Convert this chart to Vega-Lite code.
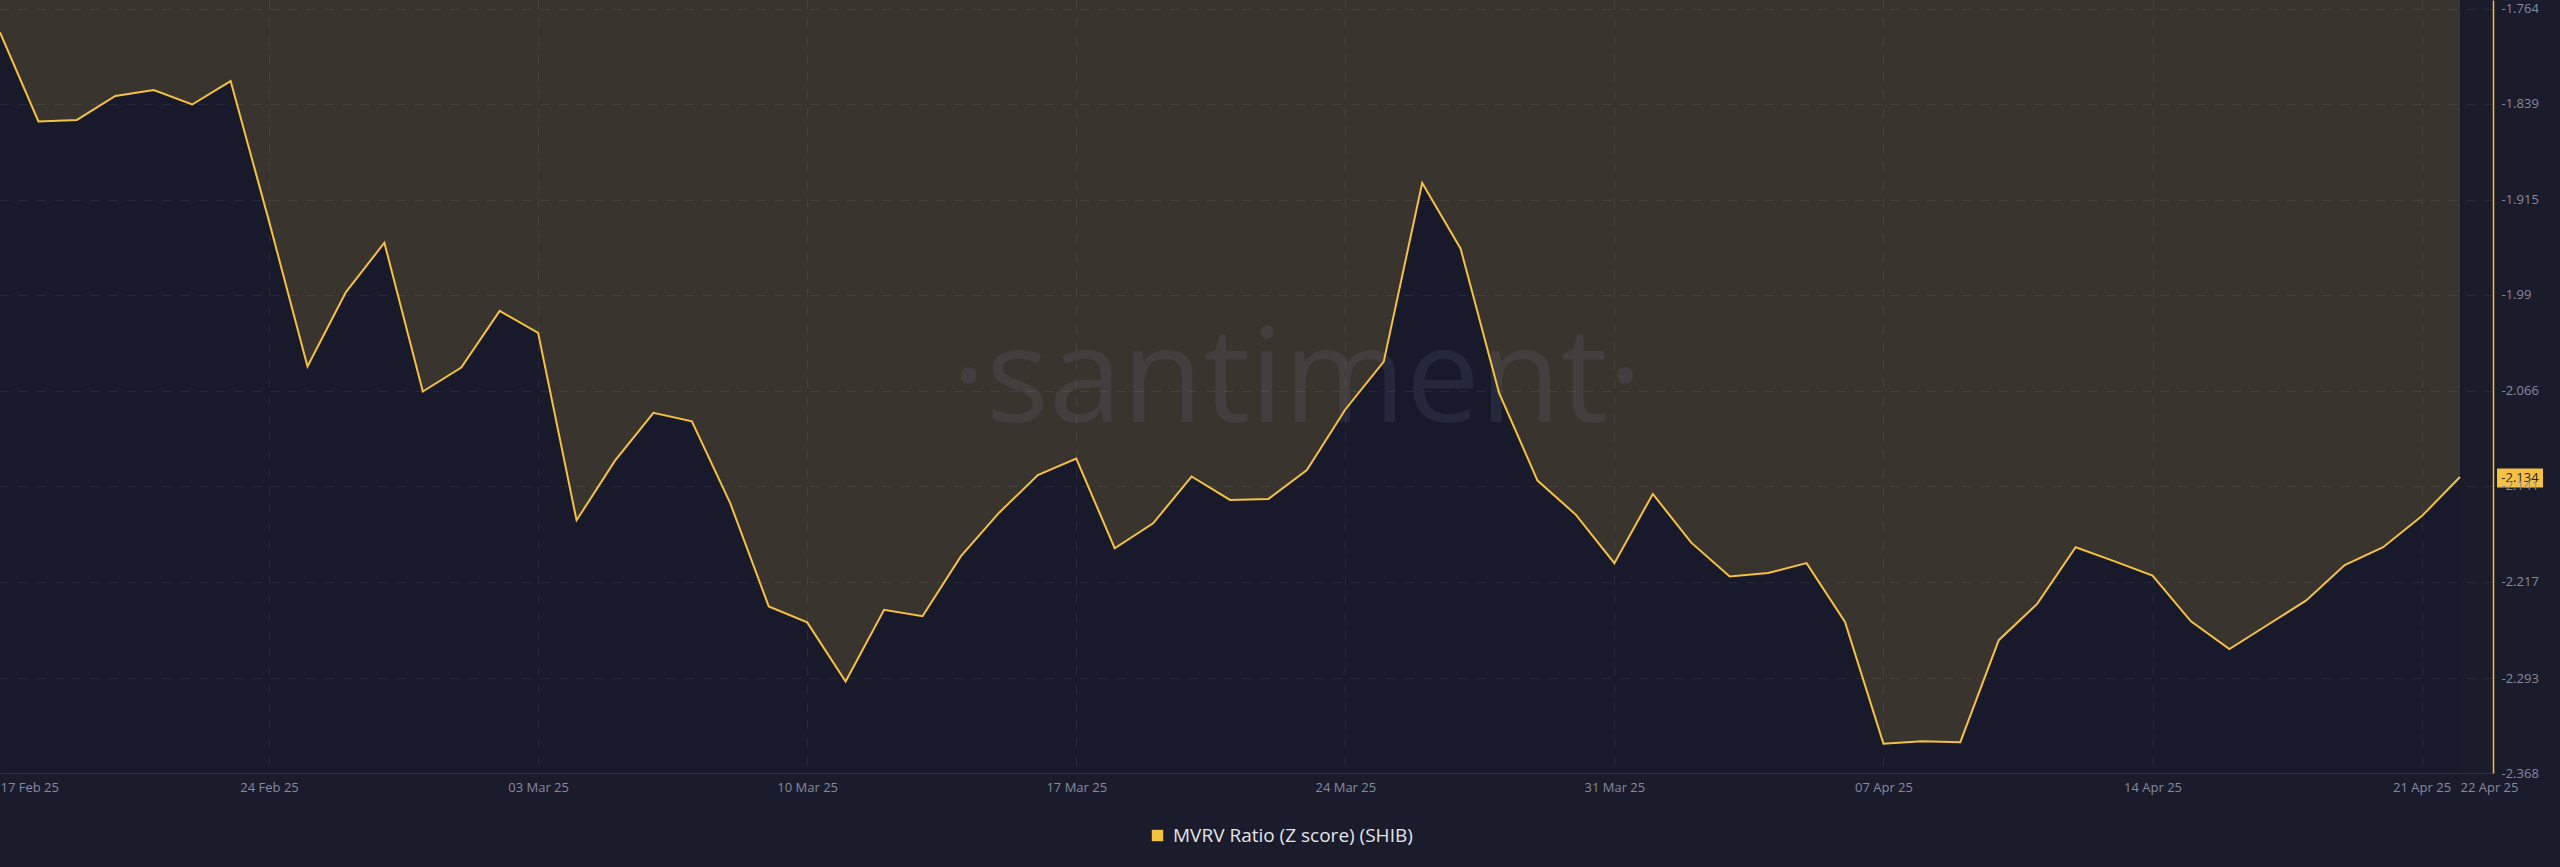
{
  "$schema": "https://vega.github.io/schema/vega-lite/v6.json",
  "width": 2493,
  "height": 773,
  "autosize": {"type": "none"},
  "padding": {"left": 0, "top": 0, "right": 67, "bottom": 94},
  "background": "#1a1b2b",
  "config": {
    "view": {"stroke": null},
    "font": "Open Sans"
  },
  "data": {
    "values": [
      {"date": "2025-02-17", "value": -1.7825},
      {"date": "2025-02-18", "value": -1.8529},
      {"date": "2025-02-19", "value": -1.8517},
      {"date": "2025-02-20", "value": -1.8328},
      {"date": "2025-02-21", "value": -1.8281},
      {"date": "2025-02-22", "value": -1.8395},
      {"date": "2025-02-23", "value": -1.8210},
      {"date": "2025-02-24", "value": -1.9319},
      {"date": "2025-02-25", "value": -2.0467},
      {"date": "2025-02-26", "value": -1.9878},
      {"date": "2025-02-27", "value": -1.9488},
      {"date": "2025-02-28", "value": -2.0664},
      {"date": "2025-03-01", "value": -2.0475},
      {"date": "2025-03-02", "value": -2.0027},
      {"date": "2025-03-03", "value": -2.0200},
      {"date": "2025-03-04", "value": -2.1682},
      {"date": "2025-03-05", "value": -2.1211},
      {"date": "2025-03-06", "value": -2.0833},
      {"date": "2025-03-07", "value": -2.0900},
      {"date": "2025-03-08", "value": -2.1549},
      {"date": "2025-03-09", "value": -2.2363},
      {"date": "2025-03-10", "value": -2.2489},
      {"date": "2025-03-11", "value": -2.2957},
      {"date": "2025-03-12", "value": -2.2390},
      {"date": "2025-03-13", "value": -2.2441},
      {"date": "2025-03-14", "value": -2.1966},
      {"date": "2025-03-15", "value": -2.1620},
      {"date": "2025-03-16", "value": -2.1325},
      {"date": "2025-03-17", "value": -2.1195},
      {"date": "2025-03-18", "value": -2.1903},
      {"date": "2025-03-19", "value": -2.1706},
      {"date": "2025-03-20", "value": -2.1336},
      {"date": "2025-03-21", "value": -2.1521},
      {"date": "2025-03-22", "value": -2.1513},
      {"date": "2025-03-23", "value": -2.1285},
      {"date": "2025-03-24", "value": -2.0806},
      {"date": "2025-03-25", "value": -2.0428},
      {"date": "2025-03-26", "value": -1.9016},
      {"date": "2025-03-27", "value": -1.9535},
      {"date": "2025-03-28", "value": -2.0676},
      {"date": "2025-03-29", "value": -2.1368},
      {"date": "2025-03-30", "value": -2.1639},
      {"date": "2025-03-31", "value": -2.2021},
      {"date": "2025-04-01", "value": -2.1474},
      {"date": "2025-04-02", "value": -2.1859},
      {"date": "2025-04-03", "value": -2.2127},
      {"date": "2025-04-04", "value": -2.2099},
      {"date": "2025-04-05", "value": -2.2021},
      {"date": "2025-04-06", "value": -2.2485},
      {"date": "2025-04-07", "value": -2.3448},
      {"date": "2025-04-08", "value": -2.3429},
      {"date": "2025-04-09", "value": -2.3436},
      {"date": "2025-04-10", "value": -2.2630},
      {"date": "2025-04-11", "value": -2.2343},
      {"date": "2025-04-12", "value": -2.1895},
      {"date": "2025-04-13", "value": -2.2005},
      {"date": "2025-04-14", "value": -2.2119},
      {"date": "2025-04-15", "value": -2.2481},
      {"date": "2025-04-16", "value": -2.2701},
      {"date": "2025-04-17", "value": -2.2508},
      {"date": "2025-04-18", "value": -2.2316},
      {"date": "2025-04-19", "value": -2.2036},
      {"date": "2025-04-20", "value": -2.1895},
      {"date": "2025-04-21", "value": -2.1651},
      {"date": "2025-04-22", "value": -2.134}
    ]
  },
  "encoding": {
    "x": {
      "field": "date",
      "type": "temporal",
      "scale": {"type": "utc", "domain": [1739750400000, 1745354160000], "nice": false},
      "axis": {
        "orient": "bottom",
        "title": null,
        "zindex": 1,
        "values": [1739750400000, 1740355200000, 1740960000000, 1741564800000, 1742169600000, 1742774400000, 1743379200000, 1743984000000, 1744588800000, 1745193600000, 1745280000000],
        "labelExpr": "utcFormat(datum.value, '%d %b %y')",
        "labelOverlap": false,
        "labelAlign": {"condition": {"test": "datum.value < 1739800000000 || datum.value > 1745250000000", "value": "left"}, "value": "center"},
        "labelColor": "#868aa0",
        "labelFontSize": 13,
        "labelFont": "Open Sans",
        "labelPadding": 8,
        "ticks": false,
        "domain": true,
        "domainColor": "#2d3041",
        "domainWidth": 1,
        "grid": true,
        "gridColor": "#ffffff",
        "gridOpacity": {"condition": {"test": "datum.value < 1739800000000 || datum.value > 1745250000000", "value": 0}, "value": 0.07},
        "gridDash": [9, 9],
        "gridWidth": 1
      }
    },
    "y": {
      "field": "value",
      "type": "quantitative",
      "scale": {"domain": [-2.368, -1.7569], "nice": false, "zero": false},
      "axis": {
        "orient": "right",
        "title": null,
        "zindex": 1,
        "values": [-1.764, -1.839, -1.915, -1.99, -2.066, -2.141, -2.217, -2.293, -2.368],
        "labelExpr": "'' + datum.value",
        "labelColor": "#868aa0",
        "labelFontSize": 13,
        "labelFont": "Open Sans",
        "labelPadding": 8,
        "ticks": false,
        "domain": true,
        "domainColor": "#f5c142",
        "domainWidth": 1.5,
        "grid": true,
        "gridColor": "#ffffff",
        "gridOpacity": 0.07,
        "gridDash": [9, 9],
        "gridWidth": 1
      }
    }
  },
  "layer": [
    {
      "mark": {"type": "area", "color": "#181a2b", "interpolate": "linear"},
      "encoding": {"y2": {"datum": -2.368}}
    },
    {
      "mark": {"type": "area", "color": "#3a342f", "interpolate": "linear"},
      "encoding": {"y2": {"datum": -1.7569}}
    },
    {
      "transform": [{"filter": "time(datum.date) == 1739750400000"}],
      "mark": {"type": "text", "text": "·santiment·", "font": "Open Sans", "fontSize": 132, "align": "center", "baseline": "alphabetic", "fill": "#a0a0c0", "fillOpacity": 0.1},
      "encoding": {
        "x": {"datum": 1742665536000, "type": "temporal"},
        "y": {"datum": -2.0905, "type": "quantitative"}
      }
    },
    {
      "mark": {"type": "line", "strokeWidth": 2, "interpolate": "linear"},
      "encoding": {
        "color": {
          "datum": "MVRV Ratio (Z score) (SHIB)",
          "type": "nominal",
          "scale": {"range": ["#f5c142"]},
          "legend": {
            "title": null,
            "orient": "none",
            "legendX": 1148,
            "legendY": 826,
            "symbolType": "square",
            "symbolSize": 130,
            "symbolFillColor": "#f5c142",
            "symbolStrokeColor": "#f5c142",
            "symbolStrokeWidth": 0,
            "labelColor": "#e4e4ea",
            "labelFontSize": 19,
            "labelFont": "Open Sans",
            "labelLimit": 500,
            "labelOffset": 6
          }
        }
      }
    },
    {
      "transform": [{"filter": "time(datum.date) == 1745280000000"}],
      "mark": {"type": "point", "shape": "M-1,-0.413H1V0.413H-1Z", "size": 2116, "filled": true, "color": "#f5c142", "opacity": 1, "xOffset": 60, "yOffset": 1},
      "encoding": {}
    },
    {
      "transform": [{"filter": "time(datum.date) == 1745280000000"}],
      "mark": {"type": "text", "fontSize": 13, "font": "Open Sans", "color": "#1a1b2b", "align": "center", "baseline": "middle", "dx": 60, "dy": 1},
      "encoding": {"text": {"field": "value", "type": "nominal"}}
    }
  ]
}
